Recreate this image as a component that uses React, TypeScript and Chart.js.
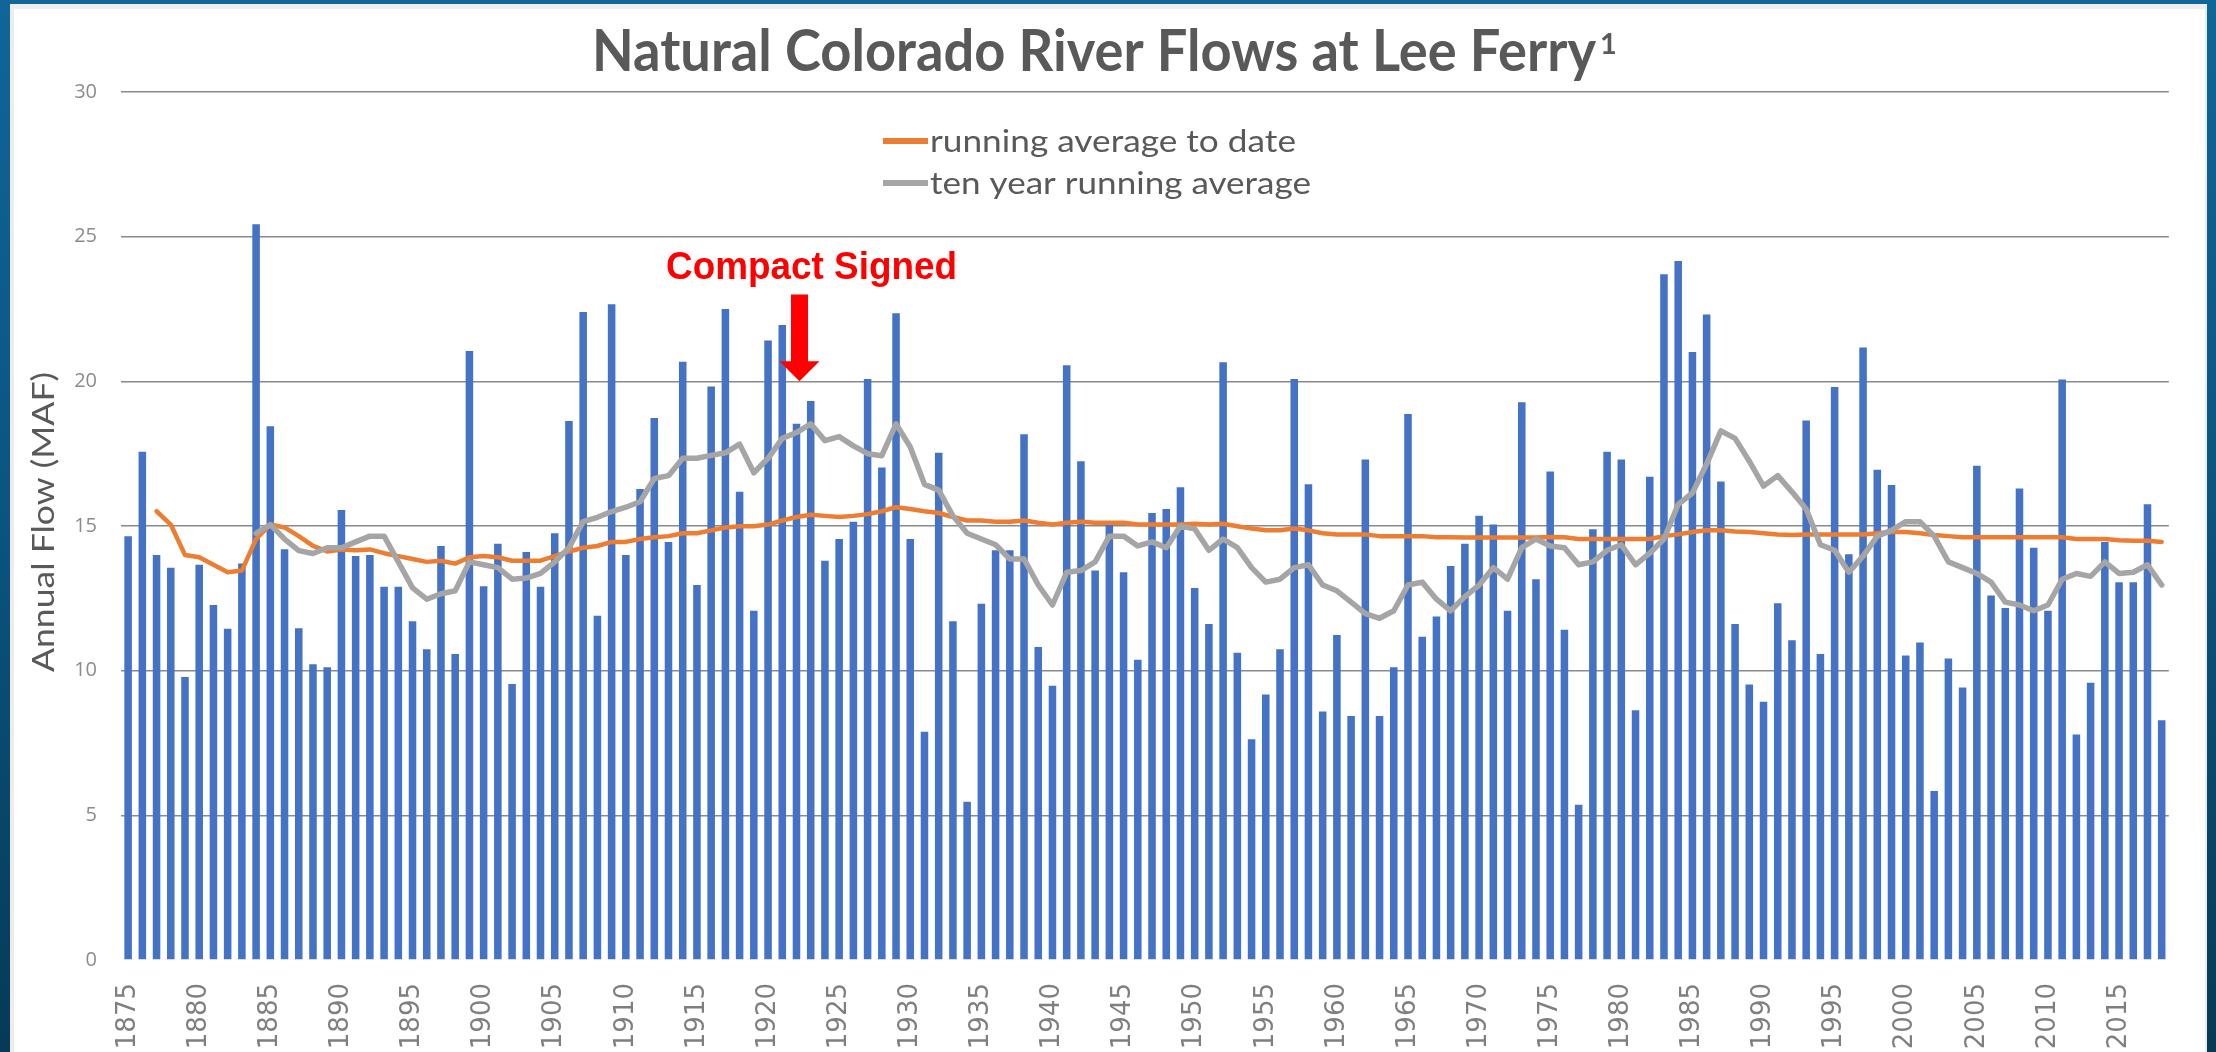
import React, { useEffect, useRef } from 'react';
import { Chart, registerables } from 'chart.js';

Chart.register(...registerables);

const W = 2216;
const H = 1052;

const firstYear = 1875;

const flows: number[] = [
  14.65, 17.57, 14.0, 13.56, 9.78, 13.66, 12.27, 11.45, 13.7, 25.43,
  18.45, 14.2, 11.47, 10.22, 10.12, 15.55, 13.96, 14.0, 12.9, 12.9,
  11.71, 10.74, 14.31, 10.58, 21.05, 12.92, 14.39, 9.54, 14.1, 12.9,
  14.75, 18.63, 22.4, 11.9, 22.66, 14.0, 16.28, 18.73, 14.45, 20.68,
  12.96, 19.82, 22.5, 16.18, 12.07, 21.41, 21.95, 18.53, 19.32, 13.8,
  14.55, 15.15, 20.08, 17.02, 22.35, 14.55, 7.89, 17.53, 11.71, 5.47,
  12.31, 14.16, 14.16, 18.17, 10.82, 9.48, 20.56, 17.24, 13.46, 15.05,
  13.4, 10.38, 15.45, 15.59, 16.34, 12.86, 11.61, 20.66, 10.62, 7.63,
  9.18, 10.74, 20.08, 16.44, 8.59, 11.23, 8.43, 17.3, 8.43, 10.12,
  18.87, 11.17, 11.87, 13.62, 14.39, 15.35, 15.05, 12.07, 19.28, 13.16,
  16.88, 11.41, 5.37, 14.89, 17.57, 17.3, 8.63, 16.7, 23.7, 24.16,
  21.01, 22.31, 16.54, 11.61, 9.52, 8.93, 12.33, 11.05, 18.65, 10.58,
  19.8, 14.02, 21.17, 16.94, 16.42, 10.52, 10.97, 5.84, 10.42, 9.42,
  17.08, 12.6, 12.17, 16.3, 14.25, 12.07, 20.06, 7.79, 9.58, 14.45,
  13.06, 13.06, 15.75, 8.29,
];

const runningAvg: (number | null)[] = [
  null, null, 15.51, 15.05, 14.0, 13.92, 13.66, 13.4, 13.46, 14.55,
  15.05, 14.95, 14.65, 14.31, 14.12, 14.19, 14.16, 14.19, 14.06, 13.96,
  13.86, 13.76, 13.8, 13.7, 13.92, 13.96, 13.92, 13.8, 13.8, 13.8,
  13.96, 14.12, 14.25, 14.31, 14.45, 14.45, 14.55, 14.61, 14.65, 14.75,
  14.75, 14.85, 14.95, 14.99, 14.99, 15.05, 15.19, 15.31, 15.39, 15.35,
  15.31, 15.35, 15.41, 15.51, 15.65, 15.59, 15.51, 15.45, 15.31, 15.19,
  15.19, 15.15, 15.15, 15.19, 15.11, 15.05, 15.11, 15.15, 15.11, 15.11,
  15.11, 15.05, 15.05, 15.05, 15.05, 15.08, 15.05, 15.08, 14.99, 14.91,
  14.85, 14.85, 14.91, 14.85, 14.75, 14.71, 14.71, 14.71, 14.65, 14.65,
  14.65, 14.65, 14.61, 14.61, 14.6, 14.6, 14.6, 14.6, 14.6, 14.6,
  14.62, 14.61, 14.55, 14.55, 14.55, 14.55, 14.55, 14.55, 14.65, 14.71,
  14.79, 14.85, 14.85, 14.81, 14.79, 14.75, 14.71, 14.69, 14.71, 14.71,
  14.71, 14.71, 14.71, 14.75, 14.79, 14.79, 14.75, 14.69, 14.65, 14.61,
  14.61, 14.61, 14.61, 14.61, 14.61, 14.61, 14.61, 14.55, 14.55, 14.55,
  14.51, 14.49, 14.49, 14.45,
];

const tenYearAvg: (number | null)[] = [
  null, null, null, null, null, null, null, null, null, 14.75,
  15.05, 14.55, 14.15, 14.05, 14.25, 14.25, 14.45, 14.65, 14.65, 13.76,
  12.86, 12.47, 12.66, 12.76, 13.76, 13.66, 13.56, 13.16, 13.2, 13.36,
  13.76, 14.25, 15.15, 15.3, 15.5, 15.65, 15.84, 16.64, 16.74, 17.34,
  17.34, 17.44, 17.53, 17.83, 16.84, 17.34, 18.03, 18.23, 18.53, 17.95,
  18.09, 17.77, 17.5, 17.43, 18.53, 17.73, 16.44, 16.24, 15.35, 14.75,
  14.55, 14.35, 13.86, 13.86, 12.96, 12.27, 13.4, 13.46, 13.76, 14.65,
  14.65, 14.31, 14.45, 14.25, 15.0, 14.9, 14.16, 14.55, 14.25, 13.56,
  13.06, 13.16, 13.56, 13.66, 12.96, 12.76, 12.37, 11.97, 11.81, 12.07,
  12.96, 13.06, 12.47, 12.07, 12.56, 12.96, 13.56, 13.16, 14.25, 14.55,
  14.31, 14.25, 13.66, 13.76, 14.16, 14.35, 13.66, 14.06, 14.55, 15.75,
  16.14, 17.14, 18.29, 18.03, 17.24, 16.38, 16.74, 16.18, 15.59, 14.35,
  14.16, 13.4, 13.96, 14.65, 14.85, 15.15, 15.15, 14.65, 13.76, 13.56,
  13.36, 13.06, 12.37, 12.27, 12.07, 12.27, 13.16, 13.36, 13.26, 13.76,
  13.36, 13.4, 13.66, 12.96,
];

const years: string[] = flows.map((_, i) => String(firstYear + i));

const chartTitle = 'Natural Colorado River Flows at Lee Ferry';
const titleNote = '1';
const yAxisTitle = 'Annual Flow (MAF)';
const seriesNames = ['running average to date', 'ten year running average', 'Annual Flow'];
const seriesColors = ['#ed7d31', '#a5a5a5', '#4472c4'];
const annotationText = 'Compact Signed';
const annotationYear = '1922';
const annotationTip = 20;
const annotationTop = 23;
const annotationTextBase = 23.55;

function drawFitted(
  ctx: CanvasRenderingContext2D,
  text: string,
  x: number,
  y: number,
  font: string,
  color: string,
  width: number,
  baseline: CanvasTextBaseline = 'alphabetic'
) {
  ctx.save();
  ctx.font = font;
  ctx.fillStyle = color;
  ctx.textAlign = 'left';
  ctx.textBaseline = baseline;
  const w = ctx.measureText(text).width || 1;
  ctx.translate(x, y);
  ctx.scale(width / w, 1);
  ctx.fillText(text, 0, 0);
  ctx.restore();
}

const textPlugin = {
  id: 'customText',
  afterDraw(chart: any) {
    const ctx: CanvasRenderingContext2D = chart.ctx;
    const xs = chart.scales.x;
    const ys = chart.scales.y;

    // Title
    drawFitted(ctx, chartTitle, 592, 71, '700 57px Lato', '#595959', 1004);
    ctx.save();
    ctx.font = '700 29px Lato';
    ctx.fillStyle = '#595959';
    ctx.textAlign = 'left';
    ctx.textBaseline = 'alphabetic';
    ctx.fillText(titleNote, 1600, 54);
    ctx.restore();

    // Legend
    const rows = [141, 183];
    for (let i = 0; i < 2; i++) {
      ctx.save();
      ctx.strokeStyle = seriesColors[i];
      ctx.lineWidth = 6;
      ctx.beginPath();
      ctx.moveTo(883, rows[i]);
      ctx.lineTo(928, rows[i]);
      ctx.stroke();
      ctx.restore();
      drawFitted(ctx, seriesNames[i], 930, rows[i] + 1, '400 30px Lato', '#595959', i === 0 ? 366 : 381, 'middle');
    }

    // Y axis title
    ctx.save();
    ctx.translate(44, (ys.top + ys.bottom) / 2 - 4);
    ctx.rotate(-Math.PI / 2);
    drawFitted(ctx, yAxisTitle, -150, 0, '400 30px Lato', '#595959', 300, 'middle');
    ctx.restore();

    // Annotation
    const idx = years.indexOf(annotationYear);
    const ax = xs.getPixelForValue(idx) + 3;
    const tipY = ys.getPixelForValue(annotationTip);
    const topY = ys.getPixelForValue(annotationTop);
    const headLen = 20;
    ctx.save();
    ctx.fillStyle = '#ff0000';
    ctx.beginPath();
    ctx.moveTo(ax - 8.5, topY);
    ctx.lineTo(ax + 8.5, topY);
    ctx.lineTo(ax + 8.5, tipY - headLen);
    ctx.lineTo(ax + 20, tipY - headLen);
    ctx.lineTo(ax, tipY);
    ctx.lineTo(ax - 20, tipY - headLen);
    ctx.lineTo(ax - 8.5, tipY - headLen);
    ctx.closePath();
    ctx.fill();
    ctx.restore();
    const textW = 291;
    drawFitted(
      ctx,
      annotationText,
      ax + 12 - textW / 2,
      ys.getPixelForValue(annotationTextBase),
      'bold 38px "Liberation Sans", Arial, sans-serif',
      '#ff0000',
      textW
    );
  },
};

export default function App() {
  const canvasRef = useRef<HTMLCanvasElement | null>(null);

  useEffect(() => {
    const canvas = canvasRef.current;
    if (!canvas) return;
    const chart = new Chart(canvas, {
      type: 'bar',
      data: {
        labels: years,
        datasets: [
          {
            type: 'line',
            label: seriesNames[0],
            data: runningAvg,
            borderColor: seriesColors[0],
            backgroundColor: seriesColors[0],
            borderWidth: 4.5,
            pointRadius: 0,
            tension: 0,
            borderJoinStyle: 'round',
            borderCapStyle: 'round',
            order: 2,
          } as any,
          {
            type: 'line',
            label: seriesNames[1],
            data: tenYearAvg,
            borderColor: seriesColors[1],
            backgroundColor: seriesColors[1],
            borderWidth: 5.5,
            pointRadius: 0,
            tension: 0,
            borderJoinStyle: 'round',
            borderCapStyle: 'round',
            order: 1,
          } as any,
          {
            type: 'bar',
            label: seriesNames[2],
            data: flows,
            backgroundColor: seriesColors[2],
            barPercentage: 0.53,
            categoryPercentage: 1,
            order: 3,
          } as any,
        ],
      },
      options: {
        responsive: false,
        maintainAspectRatio: false,
        animation: false,
        layout: { padding: { left: 0, top: 92, right: 27, bottom: 0 } },
        plugins: {
          legend: { display: false },
          title: { display: false },
          tooltip: { enabled: false },
        },
        scales: {
          x: {
            type: 'category',
            offset: true,
            grid: { display: false, drawTicks: false },
            border: { display: false },
            ticks: {
              autoSkip: false,
              minRotation: 90,
              maxRotation: 90,
              padding: 23,
              color: '#7f7f7f',
              font: { family: 'DejaVu Sans', size: 26 },
              callback: (_v: any, i: number) => (Number(years[i]) % 5 === 0 ? years[i] : ''),
            },
            afterFit: (s: any) => {
              s.height = 92;
            },
          },
          y: {
            min: 0,
            max: 30,
            ticks: {
              stepSize: 5,
              padding: 24,
              color: '#8c8c8c',
              font: { family: 'Open Sans', size: 20 },
            },
            grid: {
              drawTicks: false,
              lineWidth: 1.5,
              color: (c: any) => (c.tick && c.tick.value === 0 ? 'rgba(0,0,0,0)' : '#8a8a8a'),
            },
            border: { display: false },
            afterFit: (s: any) => {
              s.width = 121;
            },
          },
        },
      } as any,
      plugins: [textPlugin],
    });
    return () => {
      chart.destroy();
    };
  }, []);

  return (
    <div
      style={{
        position: 'fixed',
        left: 0,
        top: 0,
        width: W,
        height: H,
        overflow: 'hidden',
        background: 'linear-gradient(180deg, #0f6699 0%, #0a5480 50%, #063a57 100%)',
      }}
    >
      <div
        style={{
          position: 'absolute',
          left: 10,
          top: 4,
          width: 2197,
          height: 1060,
          background: '#ffffff',
          boxSizing: 'border-box',
          borderLeft: '4px solid #ececec',
          borderTop: '5px solid #eeeeee',
          borderRight: '2px solid #ececec',
        }}
      />
      <canvas
        ref={canvasRef}
        width={W}
        height={H}
        style={{ position: 'absolute', left: 0, top: 0, width: W, height: H }}
      />
    </div>
  );
}
